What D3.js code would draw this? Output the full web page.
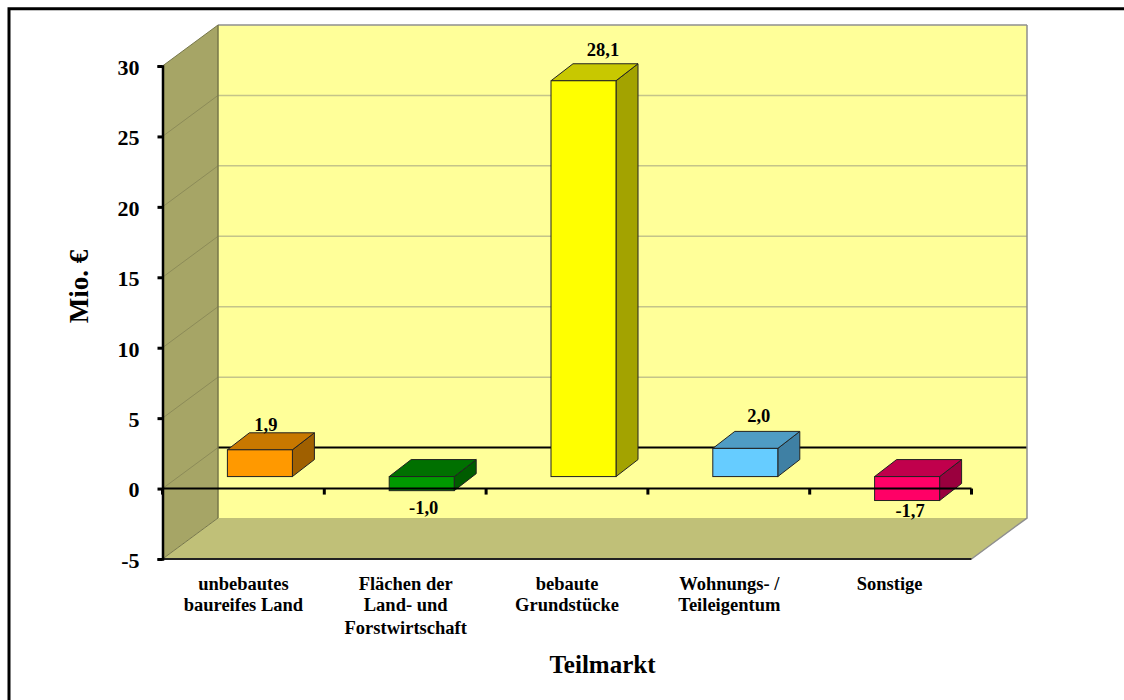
<!DOCTYPE html>
<html>
<head>
<meta charset="utf-8">
<script src="https://cdn.jsdelivr.net/npm/d3@7"></script>
<style>
  html, body { margin: 0; padding: 0; background: #fff; overflow: hidden; }
  svg { display: block; }
  text { font-family: "Liberation Serif", "Times New Roman", serif; font-weight: bold; fill: #000; }
</style>
</head>
<body>
<div id="graph"></div>
<script>
// Chart data
var categories = ["unbebautes baureifes Land", "Flächen der Land- und Forstwirtschaft", "bebaute Grundstücke", "Wohnungs- / Teileigentum", "Sonstige"];
var categoryLines = [
  ["unbebautes", "baureifes Land"],
  ["Flächen der", "Land- und", "Forstwirtschaft"],
  ["bebaute", "Grundstücke"],
  ["Wohnungs- /", "Teileigentum"],
  ["Sonstige"]
];
var values = [1.9, -1.0, 28.1, 2.0, -1.7];
var valueLabels = ["1,9", "-1,0", "28,1", "2,0", "-1,7"];
var yTicks = [-5, 0, 5, 10, 15, 20, 25, 30];

// Bar colors
var frontColors = ["#ff9900", "#009900", "#ffff00", "#66ccff", "#ff0066"];
var topColors = ["#c87800", "#007000", "#c8c800", "#4f9cc4", "#c0004c"];
var sideColors = ["#a06000", "#005c00", "#a3a300", "#3f80a4", "#9a003e"];

// Hand placed value labels, relative to the bar end
var labelDx = [6, 2, 19.5, 13.5, 3];
var labelDy = [-19, 23.5, -24.5, -26.5, 16.5];
var categoryDx = [0, 0.5, 0, 0.5, -1];
var categoryLineY = [589.5, 611, 633.5];

// HTML element dimensions
var width = 1124;
var height = 700;

var svg = d3.select("#graph")
  .append("svg")
  .attr("width", width)
  .attr("height", height);

// Outer frame, only top and left are inside the picture
svg.append("path")
  .attr("fill", "none")
  .attr("stroke", "#000")
  .attr("stroke-width", 3)
  .attr("d", d3.line()([[9, height + 5], [9, 8.8], [width + 5, 8.8]]));

// Define the scales for x and y axes
var xScale = d3.scaleBand()
  .domain(categories)
  .range([162.5, 971.5]);

var yScale = d3.scaleLinear()
  .domain([-5, 30])
  .range([559, 66]);

// Offsets of the fake 3D box
var wallDx = 55.5, wallDy = -41;
var barDx = 16.5, barDy = -12;
var barDepthX = 22, barDepthY = -17;
var barWidth = 65;

function poly(points) {
  return d3.line()(points) + "Z";
}

var x0 = xScale.range()[0], x1 = xScale.range()[1];
var yTop = yScale(30), yBottom = yScale(-5);

// Back wall
svg.append("path")
  .attr("d", poly([[x0 + wallDx, yTop + wallDy], [x1 + wallDx, yTop + wallDy], [x1 + wallDx, yBottom + wallDy], [x0 + wallDx, yBottom + wallDy]]))
  .attr("fill", "#ffff99");

// Side wall
svg.append("path")
  .attr("d", poly([[x0, yTop], [x0 + wallDx, yTop + wallDy], [x0 + wallDx, yBottom + wallDy], [x0, yBottom]]))
  .attr("fill", "#a6a566");

// Floor
svg.append("path")
  .attr("d", poly([[x0, yBottom], [x1, yBottom], [x1 + wallDx, yBottom + wallDy], [x0 + wallDx, yBottom + wallDy]]))
  .attr("fill", "#c0c078");

// Gridlines on the walls
yTicks.forEach(function(t) {
  if (t === -5) return;
  var y = yScale(t);
  var isZero = t === 0;
  svg.append("path")
    .attr("fill", "none")
    .attr("stroke", isZero ? "#000" : (t === 30 ? "#8f8f8f" : "#c4c48a"))
    .attr("stroke-width", isZero ? 2 : 1.5)
    .attr("d", d3.line()([[x0 + wallDx, y + wallDy], [x1 + wallDx, y + wallDy]]));
  if (t !== 30) {
    svg.append("path")
      .attr("fill", "none")
      .attr("stroke", "#8c8b58")
      .attr("stroke-width", 1)
      .attr("d", d3.line()([[x0, y], [x0 + wallDx, y + wallDy]]));
  }
});

// Box edges
svg.append("path")
  .attr("fill", "none")
  .attr("stroke", "#77774a")
  .attr("stroke-width", 1.5)
  .attr("d", d3.line()([[x0 + wallDx, yTop + wallDy], [x0 + wallDx, yBottom + wallDy]]));
svg.append("path")
  .attr("fill", "none")
  .attr("stroke", "#77774a")
  .attr("stroke-width", 1)
  .attr("d", d3.line()([[x0, yTop], [x0 + wallDx, yTop + wallDy]]));
svg.append("path")
  .attr("fill", "none")
  .attr("stroke", "#8f8f8f")
  .attr("stroke-width", 1.5)
  .attr("d", d3.line()([[x1 + wallDx, yTop + wallDy], [x1 + wallDx, yBottom + wallDy], [x1, yBottom]]));
svg.append("path")
  .attr("fill", "none")
  .attr("stroke", "#77774a")
  .attr("stroke-width", 1)
  .attr("d", d3.line()([[x0, yBottom], [x0 + wallDx, yBottom + wallDy]]));

// Draw the bars
var bars = svg.selectAll("g.bar")
  .data(values)
  .enter()
  .append("g")
  .attr("class", "bar");

function barLeft(i) {
  return xScale(categories[i]) + (xScale.bandwidth() - barWidth) / 2 + barDx;
}

function barTop(d) {
  return Math.min(yScale(d), yScale(0)) + barDy;
}

function barBottom(d) {
  return Math.max(yScale(d), yScale(0)) + barDy;
}

bars.append("path")
  .attr("fill", function(d, i) { return sideColors[i]; })
  .attr("stroke", "#222")
  .attr("stroke-width", 1)
  .attr("d", function(d, i) {
    var r = barLeft(i) + barWidth;
    return poly([[r, barTop(d)], [r + barDepthX, barTop(d) + barDepthY], [r + barDepthX, barBottom(d) + barDepthY], [r, barBottom(d)]]);
  });

bars.append("path")
  .attr("fill", function(d, i) { return topColors[i]; })
  .attr("stroke", "#222")
  .attr("stroke-width", 1)
  .attr("d", function(d, i) {
    var l = barLeft(i), t = barTop(d);
    return poly([[l, t], [l + barWidth, t], [l + barWidth + barDepthX, t + barDepthY], [l + barDepthX, t + barDepthY]]);
  });

bars.append("rect")
  .attr("x", function(d, i) { return barLeft(i); })
  .attr("y", barTop)
  .attr("width", barWidth)
  .attr("height", function(d) { return barBottom(d) - barTop(d); })
  .attr("fill", function(d, i) { return frontColors[i]; })
  .attr("stroke", "#222")
  .attr("stroke-width", 1);

// Add zero axis with ticks
svg.append("line")
  .attr("x1", x0).attr("x2", x1)
  .attr("y1", yScale(0)).attr("y2", yScale(0))
  .attr("stroke", "#000")
  .attr("stroke-width", 2);

d3.range(categories.length + 1).forEach(function(i) {
  var x = x0 + i * xScale.bandwidth();
  svg.append("line")
    .attr("x1", x).attr("x2", x)
    .attr("y1", yScale(0)).attr("y2", yScale(0) + 6)
    .attr("stroke", "#000")
    .attr("stroke-width", 3);
});

// Value labels
svg.selectAll("text.value")
  .data(values)
  .enter()
  .append("text")
  .attr("class", "value")
  .attr("x", function(d, i) { return barLeft(i) + barWidth / 2 + labelDx[i]; })
  .attr("y", function(d, i) { return yScale(d) + barDy + labelDy[i]; })
  .attr("text-anchor", "middle")
  .attr("font-size", 18.5)
  .text(function(d, i) { return valueLabels[i]; });

// Bottom edge of the floor
svg.append("line")
  .attr("x1", x0).attr("x2", x1)
  .attr("y1", yBottom).attr("y2", yBottom)
  .attr("stroke", "#222")
  .attr("stroke-width", 2);

// Add y-axis
var axisY = d3.axisLeft(yScale)
  .tickValues(yTicks)
  .tickSize(5)
  .tickPadding(18)
  .tickFormat(function(d) { return d; });
var gY = svg.append("g")
  .attr("transform", "translate(" + x0 + ",0)")
  .call(axisY);
gY.select(".domain").attr("stroke", "#000").attr("stroke-width", 2.5);
gY.selectAll(".tick line").attr("stroke", "#000").attr("stroke-width", 3);
gY.selectAll(".tick text")
  .attr("font-size", 22)
  .attr("dy", "0.38em")
  .style("font-family", "'Liberation Serif', serif")
  .style("font-weight", "bold");

// Category labels
categoryLines.forEach(function(lines, i) {
  var cx = xScale(categories[i]) + xScale.bandwidth() / 2 + categoryDx[i];
  lines.forEach(function(line, j) {
    svg.append("text")
      .attr("x", cx)
      .attr("y", categoryLineY[j])
      .attr("text-anchor", "middle")
      .attr("font-size", 18.5)
      .text(line);
  });
});

// Axis titles
svg.append("text")
  .attr("x", 602.5)
  .attr("y", 673)
  .attr("text-anchor", "middle")
  .attr("font-size", 25)
  .text("Teilmarkt");

svg.append("text")
  .attr("transform", "translate(88,286.5) rotate(-90)")
  .attr("text-anchor", "middle")
  .attr("font-size", 27)
  .text("Mio. €");
</script>
</body>
</html>
